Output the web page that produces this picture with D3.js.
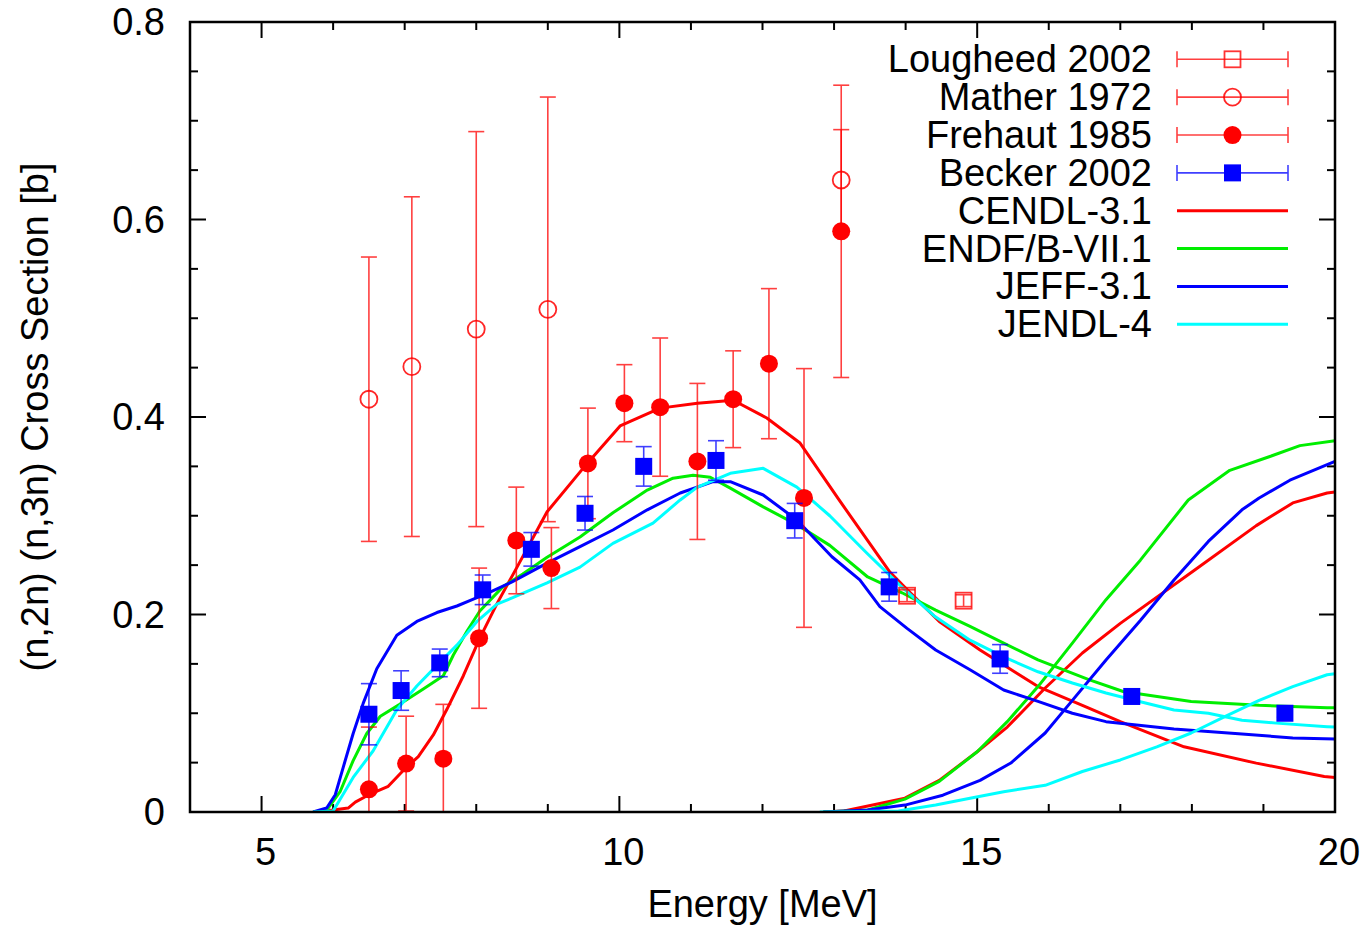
<!DOCTYPE html>
<html>
<head>
<meta charset="utf-8">
<script src="https://cdn.jsdelivr.net/npm/d3@7"></script>
<style>
  html, body { margin: 0; padding: 0; background: #fff; }
  svg { display: block; font-family: "Liberation Sans", Arial, Helvetica, sans-serif; }
</style>
</head>
<body>
<svg id="chart" width="1365" height="930"></svg>
<script>
// ---- Axis ticks ----
const xMajorTicks = [5, 10, 15, 20];
const yMajorTicks = [0, 0.2, 0.4, 0.6, 0.8];
const yTickLabels = ["0", "0.2", "0.4", "0.6", "0.8"];

// ---- Measurements: energy [MeV], cross section [b], uncertainty [b] ----
const lougheedE = [14.02, 14.81];
const lougheedXS = [0.219, 0.214];
const lougheedErr = [0.006, 0.006];

const matherE = [6.5, 7.1, 8.0, 9.0, 13.1];
const matherXS = [0.418, 0.451, 0.489, 0.509, 0.640];
const matherErr = [0.144, 0.172, 0.200, 0.215, 0.051];

const frehautE = [6.50, 7.02, 7.54, 8.04, 8.56, 9.05, 9.56, 10.07, 10.57, 11.09, 11.59, 12.09, 12.58, 13.10];
const frehautXS = [0.023, 0.049, 0.054, 0.176, 0.275, 0.247, 0.353, 0.414, 0.410, 0.355, 0.418, 0.454, 0.318, 0.588];
const frehautErr = [0.063, 0.048, 0.055, 0.071, 0.054, 0.041, 0.056, 0.039, 0.070, 0.079, 0.049, 0.076, 0.131, 0.148];

const beckerE = [6.50, 6.95, 7.49, 8.09, 8.77, 9.52, 10.34, 11.35, 12.45, 13.77, 15.32, 17.16, 19.30];
const beckerXS = [0.099, 0.123, 0.151, 0.225, 0.266, 0.3025, 0.350, 0.356, 0.295, 0.228, 0.155, 0.117, 0.100];
const beckerErr = [0.031, 0.020, 0.014, 0.015, 0.017, 0.017, 0.020, 0.020, 0.0175, 0.0145, 0.0145, 0.004, 0.004];

// ---- Evaluated libraries: (n,2n) and (n,3n) ----
const cendlN2nE  = [5.72, 6.00, 6.21, 6.31, 6.50, 6.77, 7.00, 7.19, 7.40, 7.59, 7.82, 8.05, 8.29, 8.57, 8.99, 9.55, 10.01, 10.57, 11.09, 11.59, 12.06, 12.52, 13.08, 13.78, 14.01, 14.47, 15.04, 15.85, 16.47, 17.00, 17.89, 18.90, 19.85, 20.0];
const cendlN2nXS = [0.000, 0.002, 0.004, 0.010, 0.0175, 0.026, 0.0435, 0.056, 0.078, 0.104, 0.138, 0.176, 0.211, 0.248, 0.304, 0.353, 0.391, 0.409, 0.414, 0.417, 0.399, 0.374, 0.315, 0.243, 0.226, 0.193, 0.164, 0.127, 0.108, 0.0915, 0.066, 0.0495, 0.036, 0.035];
const cendlN3nE  = [12.85, 13.14, 13.99, 14.47, 15.00, 15.42, 15.95, 16.47, 17.00, 18.04, 18.90, 19.41, 19.89, 20.0];
const cendlN3nXS = [0.000, 0.001, 0.014, 0.032, 0.061, 0.086, 0.1256, 0.161, 0.191, 0.245, 0.290, 0.313, 0.323, 0.324];

const endfN2nE  = [5.72, 5.91, 6.10, 6.28, 6.47, 6.66, 6.93, 7.26, 7.54, 7.68, 7.87, 8.05, 8.37, 8.65, 8.99, 9.45, 9.91, 10.39, 10.75, 11.03, 11.27, 11.55, 12.01, 12.48, 12.94, 13.47, 13.95, 14.42, 14.90, 15.37, 15.85, 16.56, 17.04, 17.99, 18.94, 19.89, 20.0];
const endfN2nXS = [0.000, 0.002, 0.021, 0.052, 0.0795, 0.097, 0.109, 0.1245, 0.138, 0.159, 0.183, 0.2035, 0.228, 0.241, 0.258, 0.2785, 0.303, 0.326, 0.338, 0.341, 0.339, 0.328, 0.309, 0.291, 0.270, 0.238, 0.222, 0.2045, 0.188, 0.171, 0.154, 0.134, 0.122, 0.112, 0.108, 0.1056, 0.1055];
const endfN3nE  = [12.85, 13.47, 13.99, 14.47, 15.00, 15.42, 15.85, 16.33, 16.80, 17.28, 17.95, 18.53, 19.09, 19.51, 20.0];
const endfN3nXS = [0.000, 0.002, 0.013, 0.031, 0.061, 0.0915, 0.127, 0.171, 0.215, 0.255, 0.316, 0.346, 0.360, 0.371, 0.376];

const jeffN2nE  = [5.72, 5.91, 6.03, 6.14, 6.28, 6.42, 6.61, 6.89, 7.17, 7.45, 7.73, 7.91, 8.20, 8.50, 8.99, 9.45, 9.91, 10.39, 10.85, 11.31, 11.55, 12.01, 12.48, 12.97, 13.36, 13.64, 14.02, 14.42, 14.90, 15.37, 15.85, 16.33, 16.80, 17.75, 18.70, 19.41, 20.0];
const jeffN2nXS = [0.000, 0.004, 0.0175, 0.045, 0.0795, 0.110, 0.145, 0.179, 0.193, 0.202, 0.2086, 0.214, 0.223, 0.233, 0.252, 0.2687, 0.2856, 0.306, 0.323, 0.3345, 0.3345, 0.321, 0.2957, 0.2585, 0.235, 0.208, 0.186, 0.164, 0.144, 0.1235, 0.112, 0.100, 0.0915, 0.084, 0.079, 0.075, 0.074];
const jeffN3nE  = [12.85, 13.47, 13.99, 14.52, 15.04, 15.47, 15.95, 16.33, 16.80, 17.28, 17.75, 18.23, 18.70, 18.94, 19.37, 20.0];
const jeffN3nXS = [0.000, 0.002, 0.007, 0.017, 0.032, 0.0496, 0.080, 0.113, 0.154, 0.194, 0.235, 0.274, 0.306, 0.318, 0.336, 0.355];

const jendlN2nE  = [5.72, 6.00, 6.28, 6.56, 6.89, 7.17, 7.45, 7.73, 8.01, 8.29, 8.51, 8.99, 9.45, 9.91, 10.47, 10.85, 11.09, 11.55, 12.01, 12.48, 12.94, 13.46, 13.93, 14.40, 14.90, 15.37, 15.85, 16.33, 16.80, 17.28, 17.75, 18.23, 18.70, 19.18, 19.89, 20.0];
const jendlN2nXS = [0.000, 0.001, 0.035, 0.062, 0.1036, 0.1276, 0.1485, 0.169, 0.193, 0.2106, 0.217, 0.232, 0.248, 0.272, 0.2926, 0.316, 0.329, 0.343, 0.348, 0.329, 0.300, 0.262, 0.229, 0.1985, 0.174, 0.157, 0.142, 0.1306, 0.1205, 0.1117, 0.1033, 0.100, 0.093, 0.090, 0.0864, 0.086];
const jendlN3nE  = [12.80, 13.90, 14.42, 14.90, 15.37, 15.95, 16.47, 17.00, 17.51, 17.99, 18.46, 18.94, 19.41, 19.89, 20.0];
const jendlN3nXS = [0.000, 0.001, 0.007, 0.014, 0.0206, 0.027, 0.041, 0.0527, 0.066, 0.080, 0.0965, 0.113, 0.127, 0.139, 0.140];

// ---- Colours ----
const RED = "#ff0000", GREEN = "#00ee00", BLUE = "#0000ff", CYAN = "#00ffff";

// ---- Layout ----
const svg = d3.select("#chart");
const plot = { left: 190, right: 1335, top: 22, bottom: 812 };
const FONT = 38;

const x = d3.scaleLinear().domain([4, 20]).range([plot.left, plot.right]);
const y = d3.scaleLinear().domain([0, 0.8]).range([plot.bottom, plot.top]);

svg.append("defs").append("clipPath").attr("id", "plotClip")
  .append("rect")
  .attr("x", plot.left).attr("y", plot.top)
  .attr("width", plot.right - plot.left).attr("height", plot.bottom - plot.top);

// ---- Axes with inward ticks on all four sides ----
const xMinor = d3.range(4, 20.001, 1);
const yMinor = d3.range(0, 0.8001, 0.05);
const MAJ = 16, MIN = 8;

const axes = svg.append("g").attr("stroke", "#000").attr("stroke-width", 2);
function isMajorX(v) { return xMajorTicks.some(t => Math.abs(t - v) < 1e-6); }
function isMajorY(v) { return yMajorTicks.some(t => Math.abs(t - v) < 1e-6); }

xMinor.forEach(v => {
  const len = isMajorX(v) ? MAJ : MIN;
  axes.append("line").attr("x1", x(v)).attr("x2", x(v)).attr("y1", plot.bottom).attr("y2", plot.bottom - len);
  axes.append("line").attr("x1", x(v)).attr("x2", x(v)).attr("y1", plot.top).attr("y2", plot.top + len);
});
yMinor.forEach(v => {
  const len = isMajorY(v) ? MAJ : MIN;
  axes.append("line").attr("y1", y(v)).attr("y2", y(v)).attr("x1", plot.left).attr("x2", plot.left + len);
  axes.append("line").attr("y1", y(v)).attr("y2", y(v)).attr("x1", plot.right).attr("x2", plot.right - len);
});

// Tick labels
svg.append("g").selectAll("text").data(xMajorTicks).join("text")
  .attr("x", d => x(d) + 4).attr("y", 865)
  .attr("text-anchor", "middle").attr("font-size", FONT).attr("fill", "#000")
  .text(d => String(d));

svg.append("g").selectAll("text").data(yMajorTicks).join("text")
  .attr("x", 165).attr("y", d => y(d) + 13)
  .attr("text-anchor", "end").attr("font-size", FONT).attr("fill", "#000")
  .text((d, i) => yTickLabels[i]);

// Axis titles
svg.append("text")
  .attr("x", (plot.left + plot.right) / 2).attr("y", 917)
  .attr("text-anchor", "middle").attr("font-size", FONT).attr("fill", "#000")
  .text("Energy [MeV]");

svg.append("text")
  .attr("transform", `translate(48,${(plot.top + plot.bottom) / 2}) rotate(-90)`)
  .attr("text-anchor", "middle").attr("font-size", FONT).attr("fill", "#000")
  .text("(n,2n) (n,3n) Cross Section [b]");

// ---- Curves ----
const curveLayer = svg.append("g").attr("clip-path", "url(#plotClip)");
const line = d3.line().x(d => x(d[0])).y(d => y(d[1]));
function zip(es, vs) { return es.map((e, i) => [e, vs[i]]); }

const curves = [
  { e: cendlN2nE, v: cendlN2nXS, c: RED },
  { e: cendlN3nE, v: cendlN3nXS, c: RED },
  { e: endfN2nE,  v: endfN2nXS,  c: GREEN },
  { e: endfN3nE,  v: endfN3nXS,  c: GREEN },
  { e: jeffN2nE,  v: jeffN2nXS,  c: BLUE },
  { e: jeffN3nE,  v: jeffN3nXS,  c: BLUE },
  { e: jendlN2nE, v: jendlN2nXS, c: CYAN },
  { e: jendlN3nE, v: jendlN3nXS, c: CYAN }
];
curves.forEach(cv => {
  curveLayer.append("path")
    .attr("d", line(zip(cv.e, cv.v)))
    .attr("fill", "none").attr("stroke", cv.c).attr("stroke-width", 3)
    .attr("stroke-linejoin", "round");
});

// ---- Measured points with error bars ----
const pointLayer = svg.append("g").attr("clip-path", "url(#plotClip)");
const CAP = 8;

function errorBars(es, vs, errs, color, opacity) {
  const g = pointLayer.append("g").attr("stroke", color).attr("stroke-width", 1.6).attr("opacity", opacity);
  es.forEach((e, i) => {
    const cx = x(e), y1 = y(vs[i] + errs[i]), y0 = y(vs[i] - errs[i]);
    g.append("line").attr("x1", cx).attr("x2", cx).attr("y1", y1).attr("y2", y0);
    g.append("line").attr("x1", cx - CAP).attr("x2", cx + CAP).attr("y1", y1).attr("y2", y1);
    g.append("line").attr("x1", cx - CAP).attr("x2", cx + CAP).attr("y1", y0).attr("y2", y0);
  });
}

function drawMarker(g, kind, cx, cy, color) {
  if (kind === "openSquare") {
    g.append("rect").attr("x", cx - 8).attr("y", cy - 8).attr("width", 16).attr("height", 16)
      .attr("fill", "none").attr("stroke", color).attr("stroke-width", 1.8).attr("opacity", 0.8);
  } else if (kind === "openCircle") {
    g.append("circle").attr("cx", cx).attr("cy", cy).attr("r", 8.5)
      .attr("fill", "none").attr("stroke", color).attr("stroke-width", 1.8).attr("opacity", 0.85);
  } else if (kind === "filledCircle") {
    g.append("circle").attr("cx", cx).attr("cy", cy).attr("r", 9).attr("fill", color);
  } else if (kind === "filledSquare") {
    g.append("rect").attr("x", cx - 8.5).attr("y", cy - 8.5).attr("width", 17).attr("height", 17).attr("fill", color);
  }
}

const measured = [
  { name: "Lougheed 2002", e: lougheedE, v: lougheedXS, err: lougheedErr, c: RED,  kind: "openSquare",   op: 0.75 },
  { name: "Mather 1972",   e: matherE,   v: matherXS,   err: matherErr,   c: RED,  kind: "openCircle",   op: 0.75 },
  { name: "Frehaut 1985",  e: frehautE,  v: frehautXS,  err: frehautErr,  c: RED,  kind: "filledCircle", op: 0.75 },
  { name: "Becker 2002",   e: beckerE,   v: beckerXS,   err: beckerErr,   c: BLUE, kind: "filledSquare", op: 0.75 }
];

measured.forEach(s => {
  errorBars(s.e, s.v, s.err, s.c, s.op);
  const g = pointLayer.append("g");
  s.e.forEach((e, i) => drawMarker(g, s.kind, x(e), y(s.v[i]), s.c));
});

// ---- Legend ----
const legendRows = [
  { name: "Lougheed 2002", c: RED,   kind: "openSquare" },
  { name: "Mather 1972",   c: RED,   kind: "openCircle" },
  { name: "Frehaut 1985",  c: RED,   kind: "filledCircle" },
  { name: "Becker 2002",   c: BLUE,  kind: "filledSquare" },
  { name: "CENDL-3.1",     c: RED,   kind: "line" },
  { name: "ENDF/B-VII.1",  c: GREEN, kind: "line" },
  { name: "JEFF-3.1",      c: BLUE,  kind: "line" },
  { name: "JENDL-4",       c: CYAN,  kind: "line" }
];
const legend = svg.append("g");
const LX0 = 1177, LX1 = 1288, LTEXT = 1152, LY0 = 59.3, LDY = 37.86;

legendRows.forEach((r, i) => {
  const cy = LY0 + i * LDY;
  legend.append("text").attr("x", LTEXT).attr("y", cy + 13)
    .attr("text-anchor", "end").attr("font-size", FONT).attr("fill", "#000").text(r.name);
  if (r.kind === "line") {
    legend.append("line").attr("x1", LX0).attr("x2", LX1).attr("y1", cy).attr("y2", cy)
      .attr("stroke", r.c).attr("stroke-width", 3);
  } else {
    const g = legend.append("g").attr("stroke", r.c).attr("stroke-width", 1.6).attr("opacity", 0.75);
    g.append("line").attr("x1", LX0).attr("x2", LX1).attr("y1", cy).attr("y2", cy);
    g.append("line").attr("x1", LX0).attr("x2", LX0).attr("y1", cy - CAP).attr("y2", cy + CAP);
    g.append("line").attr("x1", LX1).attr("x2", LX1).attr("y1", cy - CAP).attr("y2", cy + CAP);
    drawMarker(legend.append("g"), r.kind, (LX0 + LX1) / 2, cy, r.c);
  }
});

// ---- Frame ----
svg.append("rect")
  .attr("x", plot.left).attr("y", plot.top)
  .attr("width", plot.right - plot.left).attr("height", plot.bottom - plot.top)
  .attr("fill", "none").attr("stroke", "#000").attr("stroke-width", 2.5);
</script>
</body>
</html>
